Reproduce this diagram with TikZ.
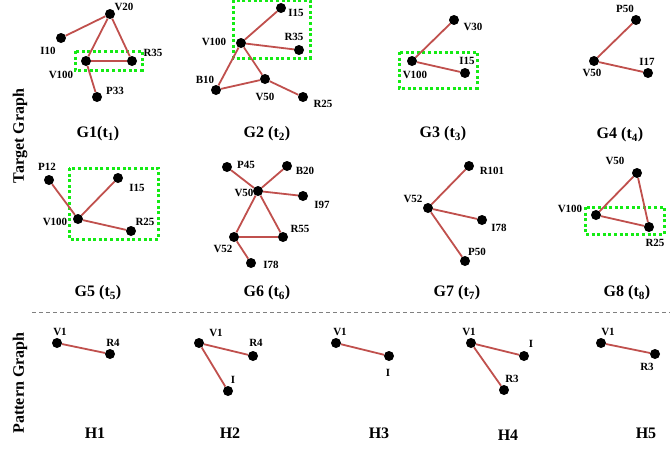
\documentclass[tikz,border=0pt]{standalone}
\usepackage{fontspec}
\setmainfont{Liberation Serif}
\definecolor{edgec}{RGB}{192,80,77}
\definecolor{boxg}{RGB}{20,235,20}
\tikzset{
  dot/.style={circle,fill=black,inner sep=0pt,minimum size=10pt},
  lbl/.style={font=\fontsize{11}{12}\selectfont\bfseries,inner sep=0pt},
  ttl/.style={font=\fontsize{16}{18}\selectfont\bfseries,inner sep=0pt},
  side/.style={font=\fontsize{16}{18}\selectfont\bfseries,inner sep=0pt,rotate=90},
  edge/.style={draw=edgec,line width=1.8pt},
  gbox/.style={draw=boxg,line width=3pt,dash pattern=on 3pt off 2.6pt},
  sep/.style={draw=gray,line width=0.8pt,dash pattern=on 4pt off 3pt}
}
\newcommand{\vx}[4]{\node[dot] (#1) at (#2) {}; \node[lbl] (#1l) at (#4) {#3};}
\begin{document}
\begin{tikzpicture}[x=1pt,y=-1pt]
\useasboundingbox (0,0) rectangle (670,450);
% side labels
\node[side] (tg) at (20,136) {Target Graph};
\node[side] (pg) at (20,383) {Pattern Graph};
% separator
\coordinate (sepa) at (32,312);
\coordinate (sepb) at (670,312);
\draw[sep] (sepa) -- (sepb);

% ---------- G1
\draw[gbox] (75,51) rectangle (142,70);
\vx{a1}{110,14}{V20}{124,7}
\vx{a2}{61,38}{I10}{48,51}
\vx{a3}{86,61}{V100}{61,75}
\vx{a4}{132,61}{R35}{153,53}
\vx{a5}{97,97}{P33}{115,91}
\draw[edge] (a1) -- (a2);
\draw[edge] (a1) -- (a3);
\draw[edge] (a1) -- (a4);
\draw[edge] (a3) -- (a4);
\draw[edge] (a3) -- (a5);
\node[ttl] (t1) at (98,134) {G1(t\textsubscript{1})};

% ---------- G2
\draw[gbox] (233,0) rectangle (310,58);
\vx{b1}{281,8}{I15}{296,13}
\vx{b2}{241,43}{V100}{214,42}
\vx{b3}{299,50}{R35}{294,37}
\vx{b4}{216,90}{B10}{205,80}
\vx{b5}{265,79}{V50}{265,97}
\vx{b6}{303,97}{R25}{323,104}
\draw[edge] (b2) -- (b1);
\draw[edge] (b2) -- (b3);
\draw[edge] (b2) -- (b4);
\draw[edge] (b2) -- (b5);
\draw[edge] (b4) -- (b5);
\draw[edge] (b5) -- (b6);
\node[ttl] (t2) at (267,134) {G2 (t\textsubscript{2})};

% ---------- G3
\draw[gbox] (399,52) rectangle (477,88);
\vx{c1}{454,20}{V30}{473,27}
\vx{c2}{412,61}{V100}{415,75}
\vx{c3}{465,73}{I15}{467,61}
\draw[edge] (c2) -- (c1);
\draw[edge] (c2) -- (c3);
\node[ttl] (t3) at (443,134) {G3 (t\textsubscript{3})};

% ---------- G4
\vx{d1}{636,20}{P50}{625,9}
\vx{d2}{594,61}{V50}{592,73}
\vx{d3}{648,73}{I17}{647,62}
\draw[edge] (d2) -- (d1);
\draw[edge] (d2) -- (d3);
\node[ttl] (t4) at (620,135) {G4 (t\textsubscript{4})};

% ---------- G5
\draw[gbox] (69,168) rectangle (158,239);
\vx{e1}{49,180}{P12}{47,167}
\vx{e2}{118,178}{I15}{137,188}
\vx{e3}{78,219}{V100}{55,222}
\vx{e4}{131,231}{R25}{145,222}
\draw[edge] (e3) -- (e1);
\draw[edge] (e3) -- (e2);
\draw[edge] (e3) -- (e4);
\node[ttl] (t5) at (98,293) {G5 (t\textsubscript{5})};

% ---------- G6
\vx{f1}{227,167}{P45}{246,165}
\vx{f2}{287,166}{B20}{305,171}
\vx{f3}{258,191}{V50}{244,193}
\vx{f4}{303,196}{I97}{322,205}
\vx{f5}{283,237}{R55}{300,229}
\vx{f6}{234,237}{V52}{223,249}
\vx{f7}{251,263}{I78}{271,265}
\draw[edge] (f3) -- (f1);
\draw[edge] (f3) -- (f2);
\draw[edge] (f3) -- (f4);
\draw[edge] (f3) -- (f5);
\draw[edge] (f3) -- (f6);
\draw[edge] (f6) -- (f5);
\draw[edge] (f6) -- (f7);
\node[ttl] (t6) at (267,293) {G6 (t\textsubscript{6})};

% ---------- G7
\vx{g1}{469,166}{R101}{492,171}
\vx{g2}{428,208}{V52}{413,199}
\vx{g3}{482,220}{I78}{499,228}
\vx{g4}{465,261}{P50}{477,252}
\draw[edge] (g2) -- (g1);
\draw[edge] (g2) -- (g3);
\draw[edge] (g2) -- (g4);
\node[ttl] (t7) at (457,293) {G7 (t\textsubscript{7})};

% ---------- G8
\draw[gbox] (585,207) rectangle (664,234);
\vx{h1}{637,173}{V50}{615,161}
\vx{h2}{596,215}{V100}{570,209}
\vx{h3}{649,227}{R25}{655,243}
\draw[edge] (h2) -- (h1);
\draw[edge] (h1) -- (h3);
\draw[edge] (h2) -- (h3);
\node[ttl] (t8) at (627,293) {G8 (t\textsubscript{8})};

% ---------- Pattern graphs
\vx{p1}{57,343}{V1}{60,332}
\vx{p2}{110,354}{R4}{113,343}
\draw[edge] (p1) -- (p2);
\node[ttl] (s1) at (95,433) {H1};

\vx{q1}{199,343}{V1}{216,333}
\vx{q2}{253,356}{R4}{256,343}
\vx{q3}{228,391}{I}{233,380}
\draw[edge] (q1) -- (q2);
\draw[edge] (q1) -- (q3);
\node[ttl] (s2) at (230,433) {H2};

\vx{r1}{336,343}{V1}{340,332}
\vx{r2}{389,356}{I}{388,373}
\draw[edge] (r1) -- (r2);
\node[ttl] (s3) at (379,433) {H3};

\vx{u1}{471,343}{V1}{469,332}
\vx{u2}{524,356}{I}{531,344}
\vx{u3}{504,390}{R3}{512,379}
\draw[edge] (u1) -- (u2);
\draw[edge] (u1) -- (u3);
\node[ttl] (s4) at (508,435) {H4};

\vx{w1}{601,343}{V1}{608,332}
\vx{w2}{655,354}{R3}{647,367}
\draw[edge] (w1) -- (w2);
\node[ttl] (s5) at (646,433) {H5};
\end{tikzpicture}
\end{document}
